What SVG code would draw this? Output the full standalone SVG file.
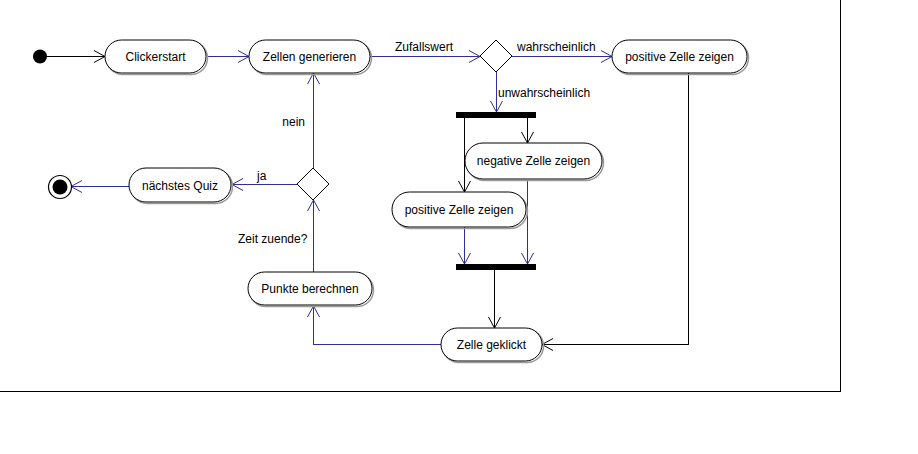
<svg xmlns="http://www.w3.org/2000/svg" width="918" height="454" viewBox="0 0 918 454">
<style>
text{font-family:"Liberation Sans",Arial,sans-serif;font-size:12px;fill:#000}
.box{fill:#fff;stroke:#000;stroke-width:1}
.sh{fill:none;stroke:#9a9a9a;stroke-width:1.5}
.b{stroke:#2e2e99;fill:none;stroke-width:1;shape-rendering:crispEdges}
.k{stroke:#000;fill:none;stroke-width:1;shape-rendering:crispEdges}
.c{text-anchor:middle}
</style>
<defs>
<marker id="ab" markerUnits="userSpaceOnUse" markerWidth="14" markerHeight="14" viewBox="-12 -7 14 14" refX="0" refY="0" orient="auto"><path d="M-11,-6 L0,0 L-11,6" fill="none" stroke="#2e2e99" stroke-width="1"/></marker>
<marker id="ak" markerUnits="userSpaceOnUse" markerWidth="14" markerHeight="14" viewBox="-12 -7 14 14" refX="0" refY="0" orient="auto"><path d="M-11,-6 L0,0 L-11,6" fill="none" stroke="#000" stroke-width="1"/></marker>
</defs>
<rect width="918" height="454" fill="#fff"/>
<path d="M840.5,0 V391.5 H0" fill="none" stroke="#000" stroke-width="1.2" shape-rendering="crispEdges"/>

<g id="connectors">
<line class="k" x1="47" y1="56.5" x2="105" y2="56.5" marker-end="url(#ak)"/>
<line class="b" x1="207" y1="56.5" x2="249" y2="56.5" marker-end="url(#ab)"/>
<line class="b" x1="370" y1="56.5" x2="480" y2="56.5" marker-end="url(#ab)"/>
<text x="395" y="51">Zufallswert</text>
<line class="b" x1="512" y1="56.5" x2="612" y2="56.5" marker-end="url(#ab)"/>
<text x="517" y="51">wahrscheinlich</text>
<line class="b" x1="496.5" y1="72" x2="496.5" y2="112" marker-end="url(#ab)"/>
<text x="498" y="97">unwahrscheinlich</text>
<line class="k" x1="464.5" y1="118" x2="464.5" y2="192" marker-end="url(#ak)"/>
<line class="k" x1="527.5" y1="118" x2="527.5" y2="143" marker-end="url(#ak)"/>
<line class="b" x1="527.5" y1="180" x2="527.5" y2="264" marker-end="url(#ab)"/>
<line class="b" x1="464.5" y1="227" x2="464.5" y2="264" marker-end="url(#ab)"/>
<line class="k" x1="494.5" y1="270" x2="494.5" y2="328" marker-end="url(#ak)"/>
<polyline class="k" points="688.5,73 688.5,344.5 542,344.5" marker-end="url(#ak)"/>
<polyline class="b" points="441,344.5 313.5,344.5 313.5,306" marker-end="url(#ab)"/>
<line class="b" x1="313.5" y1="272" x2="313.5" y2="200" marker-end="url(#ab)"/>
<text x="238" y="243">Zeit zuende?</text>
<line class="b" x1="313.5" y1="168" x2="313.5" y2="73" marker-end="url(#ab)"/>
<text x="305" y="126" text-anchor="end">nein</text>
<line class="b" x1="297" y1="184.5" x2="232" y2="184.5" marker-end="url(#ab)"/>
<text x="257" y="180">ja</text>
<line class="b" x1="129" y1="186.5" x2="71" y2="186.5" marker-end="url(#ab)"/>
</g>

<g id="start"><circle cx="40" cy="56.5" r="7" fill="#000"/></g>
<g id="end"><circle cx="60" cy="187" r="11.5" fill="#fff" stroke="#000" stroke-width="1.2"/><circle cx="60" cy="187" r="7.5" fill="#000"/></g>

<g id="clickerstart"><rect class="sh" x="106.5" y="41.5" width="101" height="33" rx="16.5"/><rect class="box" x="105" y="40" width="101" height="33" rx="16.5"/><text class="c" x="155.5" y="60.5">Clickerstart</text></g>
<g id="zellen-generieren"><rect class="sh" x="250.5" y="41.5" width="121" height="33" rx="16.5"/><rect class="box" x="249" y="40" width="121" height="33" rx="16.5"/><text class="c" x="309.5" y="60.5">Zellen generieren</text></g>
<g id="decision1"><polygon points="496,40 512,56 496,72 480,56" fill="#fff" stroke="#000"/></g>
<g id="positive-top"><rect class="sh" x="613.5" y="41.5" width="135" height="33" rx="16.5"/><rect class="box" x="612" y="40" width="135" height="33" rx="16.5"/><text class="c" x="679.5" y="60.5">positive Zelle zeigen</text></g>
<g id="fork"><rect x="456" y="112" width="80" height="6" fill="#000"/></g>
<g id="negative"><rect class="sh" x="466.5" y="144.5" width="137" height="36" rx="18"/><rect class="box" x="465" y="143" width="137" height="36" rx="18"/><text class="c" x="533.5" y="165">negative Zelle zeigen</text></g>
<g id="positive-low"><rect class="sh" x="393.5" y="193.5" width="134" height="35" rx="17.5"/><rect class="box" x="392" y="192" width="134" height="35" rx="17.5"/><text class="c" x="459" y="213.5">positive Zelle zeigen</text></g>
<g id="join"><rect x="456" y="264" width="80" height="6" fill="#000"/></g>
<g id="zelle-geklickt"><rect class="sh" x="442.5" y="329.5" width="101" height="33" rx="16.5"/><rect class="box" x="441" y="328" width="101" height="33" rx="16.5"/><text class="c" x="491.5" y="348.5">Zelle geklickt</text></g>
<g id="punkte"><rect class="sh" x="249.5" y="273.5" width="124" height="33" rx="16.5"/><rect class="box" x="248" y="272" width="124" height="33" rx="16.5"/><text class="c" x="310" y="292.5">Punkte berechnen</text></g>
<g id="decision2"><polygon points="313,168 329,184 313,200 297,184" fill="#fff" stroke="#000"/></g>
<g id="naechstes-quiz"><rect class="sh" x="130.5" y="169.5" width="102" height="34" rx="17"/><rect class="box" x="129" y="168" width="102" height="34" rx="17"/><text class="c" x="180" y="189.5">nächstes Quiz</text></g>
</svg>
